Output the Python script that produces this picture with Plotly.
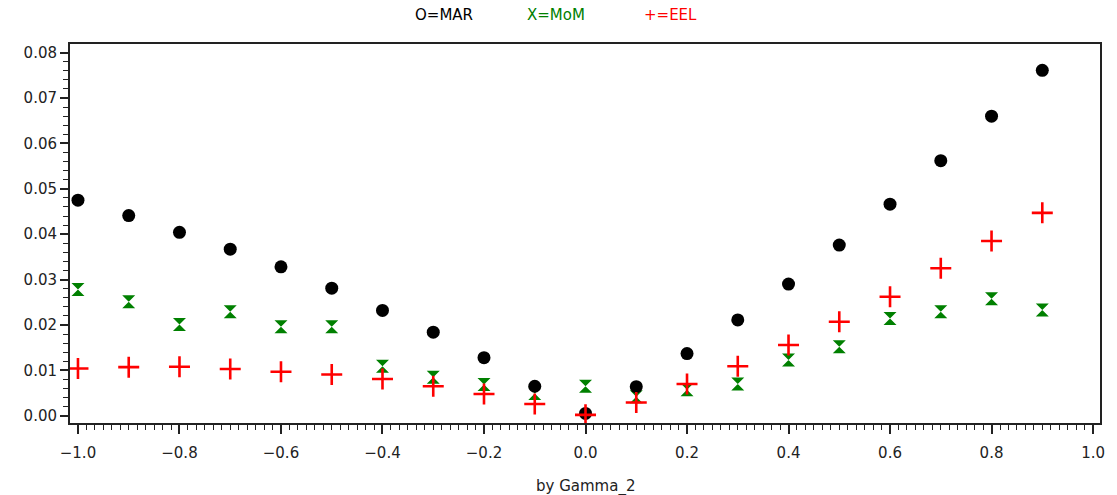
import plotly.graph_objects as go

gamma = [-1.0, -0.9, -0.8, -0.7, -0.6, -0.5, -0.4, -0.3, -0.2, -0.1,
         0.0, 0.1, 0.2, 0.3, 0.4, 0.5, 0.6, 0.7, 0.8, 0.9]
mar = [0.0475, 0.0441, 0.0404, 0.0367, 0.0328, 0.0281, 0.0232, 0.0184, 0.0128, 0.0065,
       0.0005, 0.0064, 0.0137, 0.0211, 0.0290, 0.0376, 0.0466, 0.0562, 0.0660, 0.0761]
mom = [0.0278, 0.0251, 0.0201, 0.0229, 0.0196, 0.0196, 0.0109, 0.0085, 0.0069, 0.0049,
       0.0065, 0.0042, 0.0057, 0.0070, 0.0123, 0.0152, 0.0214, 0.0229, 0.0258, 0.0233]
eel = [0.0104, 0.0107, 0.0108, 0.0103, 0.0097, 0.0091, 0.0081, 0.0065, 0.0048, 0.0026,
       0.0002, 0.0029, 0.0070, 0.0109, 0.0156, 0.0207, 0.0262, 0.0325, 0.0385, 0.0447]

legend_labels = ["O=MAR", "X=MoM", "+=EEL"]
colors = ["black", "#008000", "#ff0000"]

fig = go.Figure()
fig.add_trace(go.Scatter(x=gamma, y=mom, mode="markers", name="MoM",
                         marker=dict(symbol="hourglass", size=13, color=colors[1])))
fig.add_trace(go.Scatter(x=gamma, y=mar, mode="markers", name="MAR",
                         marker=dict(symbol="circle", size=13, color=colors[0])))
fig.add_trace(go.Scatter(x=gamma, y=eel, mode="markers", name="EEL",
                         marker=dict(symbol="cross-thin", size=15,
                                     line=dict(color=colors[2], width=2.6))))

font = dict(family="DejaVu Sans", size=15, color="#222222")

fig.update_layout(
    width=1117, height=495,
    margin=dict(l=70, r=13, t=44, b=72),
    paper_bgcolor="white", plot_bgcolor="white",
    showlegend=False,
    font=font,
    xaxis=dict(range=[-1.0157, 1.0137], tick0=-1.0, dtick=0.2, tickformat=".1f",
               showgrid=False, zeroline=False, showline=True, linecolor="#222",
               linewidth=2, mirror=True, ticks="outside", ticklen=9, tickwidth=2,
               tickcolor="#222", ticklabelstandoff=6,
               minor=dict(ticks="outside", ticklen=5, tickwidth=1, tickcolor="#222",
                          dtick=0.2 / 12, tick0=-1.0, showgrid=False)),
    yaxis=dict(range=[-0.0016, 0.0819], tick0=0, dtick=0.01, tickformat=".2f",
               showgrid=False, zeroline=False, showline=True, linecolor="#222",
               linewidth=2, mirror=True, ticks="outside", ticklen=8, tickwidth=2,
               tickcolor="#222",
               minor=dict(ticks="outside", ticklen=5, tickwidth=1, tickcolor="#222",
                          dtick=0.002, tick0=0, showgrid=False)),
)

legend_x = [445, 558, 673]
for lab, col, px in zip(legend_labels, colors, legend_x):
    fig.add_annotation(text=lab, x=(px - 70) / 1034, y=(423 - 15) / 379,
                       xref="paper", yref="paper", showarrow=False,
                       xanchor="center", yanchor="middle",
                       font=dict(family="DejaVu Sans", size=15, color=col))

fig.add_annotation(text="by Gamma_2", x=0.5, y=(423 - 486) / 379,
                   xref="paper", yref="paper", showarrow=False,
                   xanchor="center", yanchor="middle",
                   font=dict(family="DejaVu Sans", size=15, color="#222222"))

fig.write_html("out.html")
